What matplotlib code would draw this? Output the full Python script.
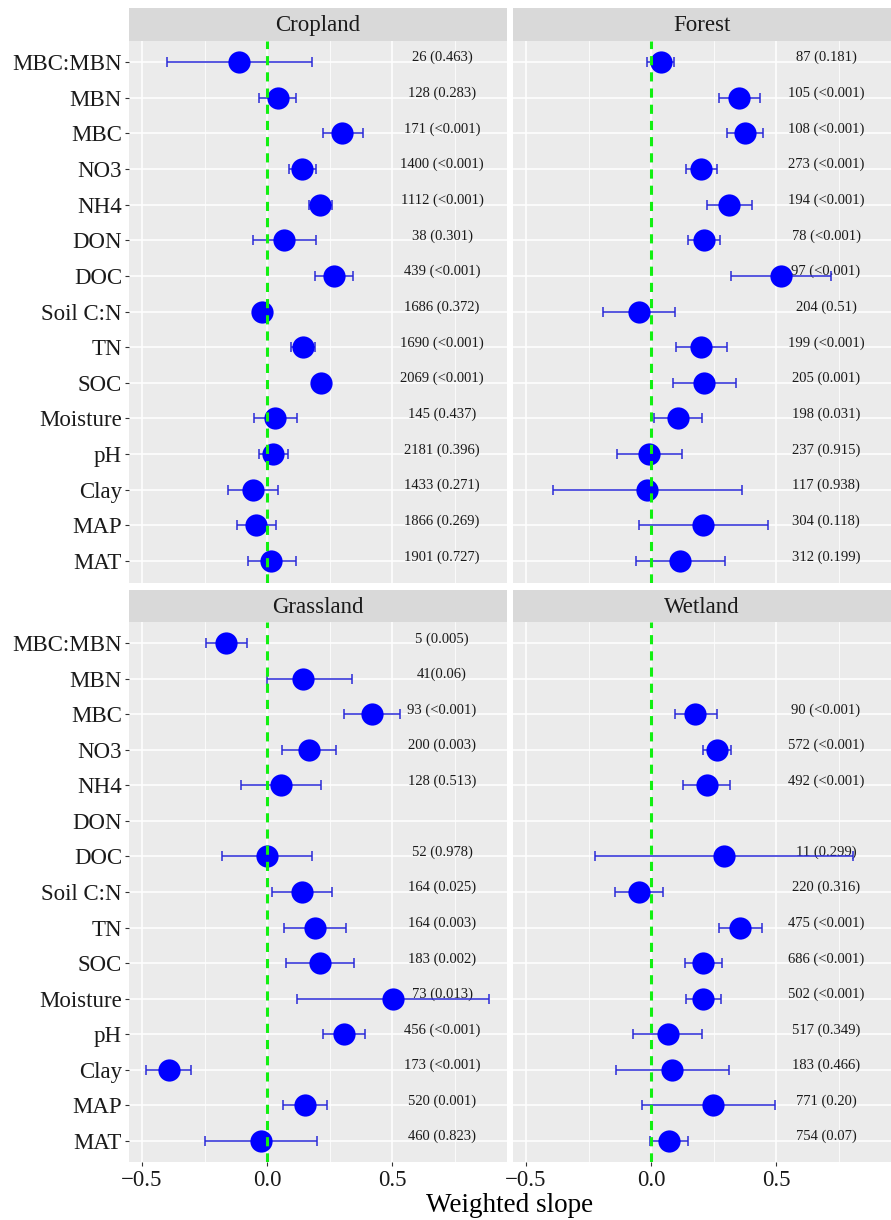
import matplotlib.pyplot as plt
import numpy as np

plt.rcParams['font.family'] = ['Liberation Serif', 'DejaVu Serif']

nan = np.nan

variables = ['MBC:MBN', 'MBN', 'MBC', 'NO3', 'NH4', 'DON', 'DOC', 'Soil C:N',
             'TN', 'SOC', 'Moisture', 'pH', 'Clay', 'MAP', 'MAT']

# Cropland
crop_slope = [-0.111, 0.043, 0.301, 0.140, 0.213, 0.069, 0.267, -0.019,
              0.143, 0.216, 0.033, 0.025, -0.057, -0.044, 0.017]
crop_low = [-0.401, -0.033, 0.223, 0.087, 0.169, -0.057, 0.192, -0.040,
            0.095, 0.192, -0.051, -0.032, -0.157, -0.121, -0.077]
crop_high = [0.181, 0.116, 0.383, 0.195, 0.259, 0.196, 0.344, 0.002,
             0.193, 0.240, 0.119, 0.083, 0.045, 0.037, 0.115]
crop_text = ['26 (0.463)', '128 (0.283)', '171 (<0.001)', '1400 (<0.001)',
             '1112 (<0.001)', '38 (0.301)', '439 (<0.001)', '1686 (0.372)',
             '1690 (<0.001)', '2069 (<0.001)', '145 (0.437)', '2181 (0.396)',
             '1433 (0.271)', '1866 (0.269)', '1901 (0.727)']

# Forest
forest_slope = [0.039, 0.352, 0.377, 0.200, 0.313, 0.213, 0.520, -0.048,
                0.200, 0.212, 0.107, -0.007, -0.015, 0.209, 0.117]
forest_low = [-0.016, 0.271, 0.305, 0.139, 0.224, 0.149, 0.321, -0.192,
              0.099, 0.087, 0.011, -0.137, -0.393, -0.047, -0.060]
forest_high = [0.092, 0.437, 0.449, 0.263, 0.405, 0.277, 0.720, 0.096,
               0.303, 0.340, 0.204, 0.125, 0.364, 0.467, 0.296]
forest_text = ['87 (0.181)', '105 (<0.001)', '108 (<0.001)', '273 (<0.001)',
               '194 (<0.001)', '78 (<0.001)', '97 (<0.001)', '204 (0.51)',
               '199 (<0.001)', '205 (0.001)', '198 (0.031)', '237 (0.915)',
               '117 (0.938)', '304 (0.118)', '312 (0.199)']

# Grassland
grass_slope = [-0.164, 0.143, 0.419, 0.167, 0.055, nan, -0.001, 0.141,
               0.192, 0.212, 0.504, 0.307, -0.393, 0.150, -0.023]
grass_low = [-0.245, 0.000, 0.307, 0.060, -0.105, nan, -0.181, 0.021,
             0.069, 0.075, 0.120, 0.224, -0.484, 0.062, -0.250]
grass_high = [-0.080, 0.339, 0.532, 0.275, 0.217, nan, 0.181, 0.261,
              0.316, 0.349, 0.888, 0.392, -0.305, 0.239, 0.198]
grass_text = ['5 (0.005)', '41(0.06)', '93 (<0.001)', '200 (0.003)',
              '128 (0.513)', '', '52 (0.978)', '164 (0.025)', '164 (0.003)',
              '183 (0.002)', '73 (0.013)', '456 (<0.001)', '173 (<0.001)',
              '520 (0.001)', '460 (0.823)']

# Wetland
wet_slope = [nan, nan, 0.177, 0.264, 0.223, nan, 0.292, -0.048,
             0.357, 0.209, 0.208, 0.068, 0.085, 0.248, 0.070]
wet_low = [nan, nan, 0.095, 0.207, 0.128, nan, -0.223, -0.144,
           0.272, 0.135, 0.140, -0.071, -0.140, -0.036, -0.004]
wet_high = [nan, nan, 0.263, 0.319, 0.315, nan, 0.809, 0.047,
            0.443, 0.284, 0.279, 0.205, 0.312, 0.497, 0.148]
wet_text = ['', '', '90 (<0.001)', '572 (<0.001)', '492 (<0.001)', '',
            '11 (0.299)', '220 (0.316)', '475 (<0.001)', '686 (<0.001)',
            '502 (<0.001)', '517 (0.349)', '183 (0.466)', '771 (0.20)',
            '754 (0.07)']

panels = [
    ('Cropland', crop_slope, crop_low, crop_high, crop_text),
    ('Forest', forest_slope, forest_low, forest_high, forest_text),
    ('Grassland', grass_slope, grass_low, grass_high, grass_text),
    ('Wetland', wet_slope, wet_low, wet_high, wet_text),
]

W, H = 891, 1220
fig = plt.figure(figsize=(W / 100, H / 100), dpi=100)

# pixel boxes
cols = [(129, 507), (513, 891)]
rows = [(8, 40.5, 582.5), (590, 622, 1162)]

ypos = np.arange(len(variables))

for i, (name, slope, low, high, text) in enumerate(panels):
    r, c = divmod(i, 2)
    x0, x1 = cols[c]
    st, pt, pb = rows[r]
    ax = fig.add_axes([x0 / W, 1 - pb / H, (x1 - x0) / W, (pb - pt) / H])
    sax = fig.add_axes([x0 / W, 1 - pt / H, (x1 - x0) / W, (pt - st) / H])

    sax.set_facecolor('#d9d9d9')
    sax.set_xticks([])
    sax.set_yticks([])
    for s in sax.spines.values():
        s.set_visible(False)
    sax.text(0.5, 0.45, name, ha='center', va='center', fontsize=16.5,
             color='#1a1a1a', transform=sax.transAxes)

    ax.set_facecolor('#ebebeb')
    for s in ax.spines.values():
        s.set_visible(False)

    slope = np.array(slope)
    low = np.array(low)
    high = np.array(high)
    err = np.vstack([slope - low, high - slope])

    for y, t in zip(ypos, text):
        ax.text(0.7, y - 0.12, t, ha='center', va='center', fontsize=10.5,
                color='#1a1a1a', zorder=2)

    ax.errorbar(slope, ypos, xerr=err, fmt='none', ecolor='#2a2ad8',
                elinewidth=1.1, capsize=3.5, capthick=1.1, zorder=3)
    ax.plot(slope, ypos, 'o', color='#0000ff', markersize=16, zorder=4,
            markeredgewidth=0)
    ax.axvline(0, color='#11f011', linewidth=2.2, dashes=(3, 2.3), zorder=5)

    ax.set_xlim(-0.552, 0.96)
    ax.set_ylim(len(variables) - 0.4, -0.6)
    ax.set_xticks([-0.5, 0.0, 0.5])
    ax.set_xticks([-0.25, 0.25, 0.75], minor=True)
    ax.set_yticks(ypos)
    ax.grid(which='major', color='white', linewidth=1.1, zorder=0)
    ax.grid(which='minor', axis='x', color='white', linewidth=0.55, zorder=0)
    ax.set_axisbelow(True)
    ax.tick_params(which='major', length=3, width=0.8, color='#333333',
                   labelsize=16.5, labelcolor='#1a1a1a', pad=2)
    ax.tick_params(axis='x', pad=3)
    ax.tick_params(which='minor', length=0)

    if c == 0:
        ax.set_yticklabels(variables)
    else:
        ax.set_yticklabels([])
        ax.tick_params(axis='y', length=0)
    if r == 1:
        ax.set_xticklabels(['\u22120.5', '0.0', '0.5'])
    else:
        ax.set_xticklabels([])
        ax.tick_params(axis='x', length=0)

fig.text(510 / W, 1 - 1205 / H, 'Weighted slope', ha='center', va='center',
         fontsize=19.5, color='#000000')

fig.savefig('out.png', dpi=100)
